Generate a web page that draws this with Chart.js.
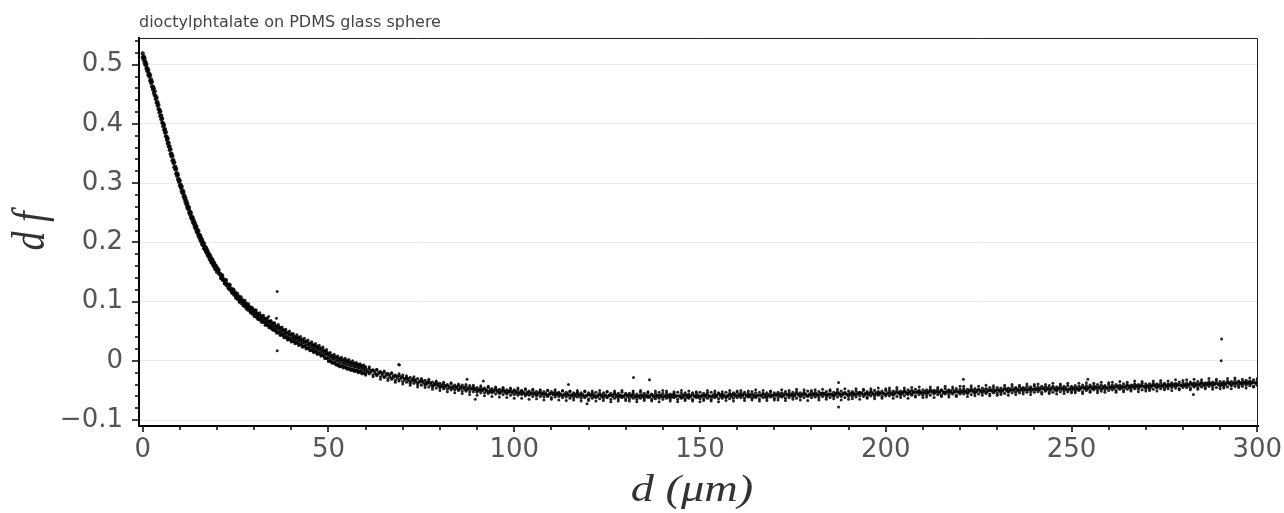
<!DOCTYPE html>
<html>
<head>
<meta charset="utf-8">
<script src="https://cdn.jsdelivr.net/npm/chart.js@4.4.1/dist/chart.umd.min.js"></script>
<style>
  html, body { margin: 0; padding: 0; background: #fff; }
  canvas { display: block; }
</style>
</head>
<body>
<canvas id="c" width="1284" height="513"></canvas>
<script>
// readings: d in um, df dimensionless
const xA = [0,0.25,0.5,0.75,1,1.25,1.5,1.75,2,2.25,2.5,2.75,3,3.25,3.5,3.75,4,4.25,4.5,4.75,
  5,5.25,5.5,5.75,6,6.25,6.5,6.75,7,7.25,7.5,7.75,8,8.25,8.5,8.75,9,9.25,9.5,9.75,
  10,10.25,10.5,10.75,11,11.25,11.5,11.75,12,12.25,12.5,12.75,13,13.25,13.5,13.75,14,14.25,14.5,14.75,
  15,15.25,15.5,15.75,16,16.25,16.5,16.75,17,17.25,17.5,17.75,18,18.25,18.5,18.75,19,19.25,19.5,19.75,20];
const yA1 = [0.519,0.514,0.511,0.505,0.501,0.494,0.491,0.485,0.482,0.475,
  0.471,0.463,0.460,0.455,0.447,0.444,0.437,0.432,0.424,0.421,
  0.414,0.409,0.401,0.398,0.391,0.386,0.378,0.375,0.368,0.362,
  0.357,0.350,0.346,0.339,0.335,0.328,0.324,0.317,0.314,0.307,
  0.304,0.297,0.294,0.288,0.285,0.279,0.275,0.270,0.266,0.261,
  0.258,0.252,0.250,0.244,0.241,0.237,0.233,0.229,0.226,0.221,
  0.219,0.213,0.211,0.207,0.204,0.200,0.198,0.193,0.191,0.188,
  0.185,0.181,0.179,0.176,0.172,0.171,0.167,0.165,0.161,0.160,0.157];
const yA2 = [0.512,0.508,0.503,0.499,0.493,0.489,0.483,0.480,0.473,0.469,
  0.463,0.458,0.452,0.448,0.442,0.436,0.431,0.425,0.419,0.413,
  0.408,0.402,0.396,0.390,0.385,0.379,0.373,0.367,0.362,0.356,
  0.349,0.345,0.338,0.334,0.327,0.323,0.316,0.312,0.306,0.302,
  0.296,0.292,0.286,0.283,0.277,0.273,0.268,0.264,0.259,0.256,
  0.250,0.247,0.242,0.239,0.234,0.231,0.226,0.223,0.218,0.216,
  0.211,0.208,0.204,0.201,0.197,0.195,0.190,0.188,0.184,0.182,
  0.178,0.176,0.172,0.170,0.166,0.165,0.161,0.159,0.155,0.154,0.150];

const xB = [20.5,21,21.5,22,22.5,23,23.5,24,24.5,25,25.5,26,26.5,27,27.5,28,28.5,29,29.5,30,
  30.5,31,31.5,32,32.5,33,33.5,34,34.5,35,35.5,36,36.5,37,37.5,38,38.5,39,39.5,40,
  40.5,41,41.5,42,42.5,43,43.5,44,44.5,45,45.5,46,46.5,47,47.5,48,48.5,49,49.5,50,
  50.5,51,51.5,52,52.5,53,53.5,54,54.5,55,55.5,56,56.5,57,57.5,58,58.5,59,59.5,60];
const yB1 = [0.153,0.147,0.143,0.138,0.135,0.130,0.127,0.122,0.119,0.116,
  0.111,0.109,0.105,0.103,0.099,0.097,0.093,0.091,0.088,0.086,
  0.083,0.080,0.078,0.076,0.073,0.072,0.069,0.067,0.066,0.063,
  0.062,0.059,0.058,0.055,0.054,0.052,0.049,0.048,0.046,0.045,
  0.043,0.040,0.040,0.038,0.036,0.036,0.033,0.033,0.030,0.029,
  0.028,0.026,0.025,0.023,0.022,0.020,0.019,0.016,0.015,0.011,
  0.010,0.008,0.007,0.005,0.004,0.002,0.002,0.000,0.000,-0.002,
  -0.002,-0.004,-0.004,-0.006,-0.006,-0.008,-0.008,-0.010,-0.010,-0.012];
const yB2 = [0.146,0.140,0.136,0.131,0.127,0.124,0.119,0.116,0.111,0.108,
  0.104,0.101,0.097,0.095,0.091,0.089,0.085,0.083,0.079,0.078,
  0.074,0.072,0.069,0.068,0.065,0.062,0.060,0.058,0.055,0.054,
  0.051,0.050,0.047,0.046,0.043,0.042,0.039,0.038,0.036,0.034,
  0.033,0.031,0.030,0.028,0.027,0.025,0.024,0.022,0.021,0.019,
  0.018,0.016,0.015,0.013,0.012,0.010,0.009,0.006,0.005,0.002,
  0.000,-0.002,-0.003,-0.005,-0.006,-0.008,-0.008,-0.010,-0.010,-0.012,
  -0.012,-0.014,-0.014,-0.016,-0.016,-0.018,-0.018,-0.020,-0.020,-0.022];
const yB3 = [0.150,0.145,0.137,0.136,0.129,0.128,0.121,0.120,0.114,0.113,
  0.106,0.107,0.100,0.101,0.094,0.095,0.088,0.090,0.082,0.085,
  0.076,0.079,0.071,0.075,0.066,0.070,0.061,0.066,0.058,0.064,
  0.053,0.058,0.049,0.056,0.045,0.051,0.041,0.047,0.038,0.045,
  0.034,0.041,0.031,0.040,0.028,0.035,0.025,0.033,0.022,0.030,
  0.019,0.027,0.016,0.025,0.012,0.021,0.010,0.017,0.004,0.013,
  -0.001,0.009,-0.004,0.007,-0.008,0.004,-0.010,0.002,-0.011,0.001,
  -0.014,-0.002,-0.016,-0.004,-0.017,-0.006,-0.019,-0.008,-0.021,-0.010];
const yB4 = [0.155,0.139,0.145,0.130,0.137,0.122,0.129,0.114,0.121,0.106,
  0.114,0.099,0.108,0.093,0.102,0.087,0.096,0.081,0.090,0.075,
  0.086,0.070,0.081,0.065,0.077,0.060,0.072,0.056,0.068,0.052,
  0.064,0.047,0.061,0.043,0.057,0.039,0.053,0.035,0.050,0.032,
  0.046,0.029,0.044,0.026,0.041,0.023,0.038,0.020,0.035,0.017,
  0.032,0.014,0.029,0.011,0.026,0.008,0.023,0.004,0.019,-0.001,
  0.014,-0.004,0.011,-0.007,0.008,-0.010,0.006,-0.012,0.004,-0.014,
  0.002,-0.016,0.000,-0.018,-0.003,-0.020,-0.005,-0.022,-0.007,-0.024];
const yB5 = [0.149,0.143,0.140,0.134,0.131,0.126,0.123,0.118,0.116,0.111,
  0.109,0.104,0.102,0.098,0.097,0.092,0.090,0.086,0.085,0.081,
  0.080,0.076,0.075,0.071,0.070,0.066,0.066,0.062,0.061,0.058,
  0.058,0.054,0.054,0.050,0.050,0.046,0.046,0.042,0.043,0.039,
  0.039,0.036,0.036,0.033,0.033,0.030,0.030,0.027,0.027,0.024,
  0.024,0.021,0.021,0.018,0.018,0.015,0.015,0.011,0.011,0.006,
  0.006,0.003,0.003,0.000,0.000,-0.003,-0.002,-0.005,-0.004,-0.007,
  -0.006,-0.009,-0.008,-0.011,-0.010,-0.013,-0.012,-0.015,-0.014,-0.017];

const xC = [61,62,63,64,65,66,67,68,69,70,71,72,73,74,75,76,77,78,79,80,
  81,82,83,84,85,86,87,88,89,90,91,92,93,94,95,96,97,98,99,100,
  101,102,103,104,105,106,107,108,109,110,111,112,113,114,115,116,117,118,119,120,
  121,122,123,124,125,126,127,128,129,130,131,132,133,134,135,136,137,138,139,140,
  141,142,143,144,145,146,147,148,149,150,151,152,153,154,155,156,157,158,159,160,
  161,162,163,164,165,166,167,168,169,170,171,172,173,174,175,176,177,178,179,180,
  181,182,183,184,185,186,187,188,189,190,191,192,193,194,195,196,197,198,199,200,
  201,202,203,204,205,206,207,208,209,210,211,212,213,214,215,216,217,218,219,220,
  221,222,223,224,225,226,227,228,229,230,231,232,233,234,235,236,237,238,239,240,
  241,242,243,244,245,246,247,248,249,250,251,252,253,254,255,256,257,258,259,260,
  261,262,263,264,265,266,267,268,269,270,271,272,273,274,275,276,277,278,279,280,
  281,282,283,284,285,286,287,288,289,290,291,292,293,294,295,296,297,298,299,300];
const yC1 = [-0.013,-0.016,-0.015,-0.018,-0.019,-0.021,-0.021,-0.024,-0.025,-0.024,
  -0.028,-0.028,-0.031,-0.030,-0.032,-0.033,-0.034,-0.036,-0.036,-0.038,
  -0.039,-0.040,-0.039,-0.041,-0.042,-0.041,-0.043,-0.042,-0.044,-0.045,
  -0.045,-0.046,-0.045,-0.047,-0.046,-0.048,-0.047,-0.049,-0.048,-0.049,
  -0.049,-0.050,-0.049,-0.051,-0.050,-0.052,-0.051,-0.052,-0.050,-0.052,
  -0.052,-0.053,-0.051,-0.053,-0.052,-0.054,-0.053,-0.054,-0.052,-0.054,
  -0.054,-0.053,-0.055,-0.054,-0.052,-0.055,-0.054,-0.055,-0.053,-0.055,
  -0.055,-0.054,-0.056,-0.053,-0.055,-0.054,-0.056,-0.055,-0.053,-0.055,
  -0.054,-0.056,-0.055,-0.053,-0.055,-0.054,-0.056,-0.054,-0.055,-0.053,
  -0.055,-0.054,-0.053,-0.055,-0.054,-0.056,-0.053,-0.055,-0.054,-0.053,
  -0.054,-0.053,-0.055,-0.052,-0.054,-0.053,-0.055,-0.054,-0.052,-0.054,
  -0.053,-0.054,-0.052,-0.054,-0.053,-0.052,-0.054,-0.053,-0.051,-0.053,
  -0.053,-0.052,-0.054,-0.052,-0.051,-0.053,-0.052,-0.051,-0.053,-0.051,
  -0.052,-0.051,-0.053,-0.050,-0.052,-0.051,-0.050,-0.052,-0.051,-0.050,
  -0.050,-0.051,-0.049,-0.051,-0.050,-0.049,-0.050,-0.048,-0.050,-0.049,
  -0.049,-0.048,-0.050,-0.048,-0.049,-0.047,-0.049,-0.048,-0.047,-0.048,
  -0.047,-0.048,-0.046,-0.047,-0.048,-0.046,-0.047,-0.045,-0.046,-0.045,
  -0.046,-0.045,-0.046,-0.044,-0.045,-0.044,-0.045,-0.043,-0.044,-0.043,
  -0.044,-0.043,-0.044,-0.042,-0.043,-0.044,-0.042,-0.043,-0.042,-0.043,
  -0.042,-0.043,-0.041,-0.042,-0.041,-0.042,-0.040,-0.041,-0.042,-0.040,
  -0.041,-0.040,-0.041,-0.039,-0.040,-0.041,-0.039,-0.040,-0.038,-0.039,
  -0.039,-0.038,-0.039,-0.037,-0.038,-0.039,-0.037,-0.038,-0.036,-0.037,
  -0.037,-0.036,-0.037,-0.035,-0.036,-0.037,-0.035,-0.036,-0.034,-0.035,
  -0.035,-0.034,-0.035,-0.033,-0.034,-0.035,-0.033,-0.034,-0.032,-0.033];
const yC2 = [-0.022,-0.024,-0.025,-0.027,-0.028,-0.030,-0.031,-0.033,-0.034,-0.035,
  -0.036,-0.038,-0.038,-0.040,-0.041,-0.041,-0.044,-0.044,-0.046,-0.046,
  -0.047,-0.048,-0.049,-0.049,-0.050,-0.051,-0.051,-0.052,-0.052,-0.053,
  -0.054,-0.054,-0.055,-0.054,-0.056,-0.055,-0.057,-0.056,-0.058,-0.057,
  -0.058,-0.057,-0.059,-0.058,-0.060,-0.059,-0.060,-0.061,-0.060,-0.062,
  -0.061,-0.060,-0.062,-0.061,-0.063,-0.062,-0.061,-0.063,-0.062,-0.064,
  -0.063,-0.062,-0.064,-0.063,-0.062,-0.065,-0.063,-0.064,-0.062,-0.064,
  -0.064,-0.063,-0.065,-0.063,-0.064,-0.062,-0.065,-0.064,-0.063,-0.065,
  -0.063,-0.064,-0.062,-0.065,-0.063,-0.064,-0.063,-0.065,-0.062,-0.064,
  -0.064,-0.063,-0.065,-0.062,-0.064,-0.063,-0.062,-0.064,-0.063,-0.062,
  -0.062,-0.063,-0.061,-0.063,-0.062,-0.064,-0.062,-0.063,-0.061,-0.063,
  -0.062,-0.061,-0.063,-0.062,-0.061,-0.063,-0.061,-0.062,-0.060,-0.062,
  -0.061,-0.062,-0.060,-0.061,-0.062,-0.060,-0.061,-0.060,-0.062,-0.060,
  -0.060,-0.061,-0.059,-0.060,-0.061,-0.059,-0.060,-0.058,-0.060,-0.059,
  -0.059,-0.058,-0.060,-0.058,-0.059,-0.057,-0.058,-0.059,-0.057,-0.058,
  -0.057,-0.058,-0.056,-0.057,-0.058,-0.056,-0.057,-0.056,-0.058,-0.056,
  -0.056,-0.055,-0.057,-0.055,-0.056,-0.054,-0.055,-0.056,-0.054,-0.055,
  -0.054,-0.055,-0.053,-0.054,-0.053,-0.054,-0.052,-0.053,-0.052,-0.053,
  -0.052,-0.053,-0.051,-0.052,-0.053,-0.051,-0.052,-0.051,-0.052,-0.051,
  -0.051,-0.050,-0.052,-0.050,-0.051,-0.049,-0.050,-0.051,-0.049,-0.050,
  -0.049,-0.050,-0.048,-0.049,-0.048,-0.049,-0.047,-0.048,-0.049,-0.047,
  -0.047,-0.048,-0.046,-0.047,-0.046,-0.047,-0.045,-0.046,-0.047,-0.045,
  -0.045,-0.046,-0.044,-0.045,-0.044,-0.045,-0.043,-0.044,-0.045,-0.043,
  -0.043,-0.044,-0.042,-0.043,-0.042,-0.043,-0.041,-0.042,-0.043,-0.041];
const yC3 = [-0.019,-0.015,-0.023,-0.020,-0.027,-0.023,-0.029,-0.026,-0.032,-0.028,
  -0.030,-0.035,-0.033,-0.037,-0.035,-0.039,-0.037,-0.042,-0.040,-0.043,
  -0.044,-0.042,-0.046,-0.044,-0.048,-0.045,-0.049,-0.046,-0.047,-0.050,
  -0.050,-0.048,-0.052,-0.051,-0.049,-0.053,-0.050,-0.054,-0.052,-0.051,
  -0.054,-0.052,-0.056,-0.053,-0.055,-0.057,-0.054,-0.056,-0.058,-0.055,
  -0.057,-0.055,-0.058,-0.056,-0.059,-0.057,-0.055,-0.058,-0.060,-0.057,
  -0.058,-0.060,-0.057,-0.059,-0.061,-0.058,-0.056,-0.060,-0.059,-0.057,
  -0.059,-0.057,-0.060,-0.058,-0.061,-0.059,-0.057,-0.060,-0.058,-0.061,
  -0.058,-0.060,-0.057,-0.059,-0.061,-0.058,-0.060,-0.057,-0.059,-0.060,
  -0.059,-0.057,-0.060,-0.058,-0.056,-0.059,-0.061,-0.058,-0.057,-0.059,
  -0.058,-0.056,-0.059,-0.057,-0.060,-0.058,-0.056,-0.059,-0.057,-0.058,
  -0.057,-0.059,-0.056,-0.058,-0.057,-0.055,-0.058,-0.056,-0.059,-0.057,
  -0.056,-0.058,-0.055,-0.057,-0.056,-0.058,-0.055,-0.057,-0.055,-0.056,
  -0.055,-0.057,-0.054,-0.056,-0.055,-0.053,-0.056,-0.055,-0.054,-0.056,
  -0.054,-0.056,-0.053,-0.055,-0.052,-0.054,-0.056,-0.053,-0.052,-0.054,
  -0.053,-0.051,-0.054,-0.052,-0.050,-0.053,-0.052,-0.054,-0.051,-0.052,
  -0.051,-0.053,-0.050,-0.052,-0.049,-0.051,-0.053,-0.050,-0.051,-0.049,
  -0.050,-0.048,-0.051,-0.049,-0.047,-0.050,-0.048,-0.049,-0.047,-0.048,
  -0.048,-0.046,-0.049,-0.047,-0.045,-0.048,-0.046,-0.047,-0.049,-0.046,
  -0.046,-0.048,-0.045,-0.047,-0.044,-0.046,-0.045,-0.047,-0.044,-0.045,
  -0.045,-0.043,-0.046,-0.044,-0.042,-0.045,-0.043,-0.044,-0.042,-0.043,
  -0.043,-0.041,-0.044,-0.042,-0.040,-0.043,-0.041,-0.042,-0.040,-0.041,
  -0.041,-0.039,-0.042,-0.040,-0.038,-0.041,-0.039,-0.040,-0.038,-0.039,
  -0.039,-0.037,-0.040,-0.038,-0.036,-0.039,-0.037,-0.038,-0.036,-0.037];
const yC4 = [-0.010,-0.027,-0.014,-0.031,-0.017,-0.033,-0.020,-0.036,-0.022,-0.039,
  -0.025,-0.041,-0.027,-0.044,-0.030,-0.045,-0.031,-0.048,-0.034,-0.050,
  -0.036,-0.052,-0.037,-0.054,-0.039,-0.055,-0.040,-0.057,-0.041,-0.058,
  -0.042,-0.059,-0.043,-0.060,-0.044,-0.061,-0.045,-0.062,-0.046,-0.063,
  -0.046,-0.063,-0.047,-0.065,-0.048,-0.064,-0.049,-0.066,-0.050,-0.065,
  -0.049,-0.066,-0.050,-0.067,-0.051,-0.066,-0.050,-0.068,-0.051,-0.067,
  -0.051,-0.068,-0.050,-0.067,-0.052,-0.069,-0.051,-0.068,-0.050,-0.067,
  -0.068,-0.051,-0.069,-0.050,-0.067,-0.052,-0.068,-0.051,-0.069,-0.050,
  -0.051,-0.068,-0.052,-0.069,-0.050,-0.067,-0.051,-0.068,-0.052,-0.069,
  -0.067,-0.050,-0.068,-0.051,-0.069,-0.052,-0.067,-0.050,-0.068,-0.051,
  -0.050,-0.067,-0.051,-0.066,-0.049,-0.068,-0.050,-0.067,-0.051,-0.066,
  -0.066,-0.049,-0.067,-0.050,-0.065,-0.048,-0.066,-0.049,-0.067,-0.050,
  -0.049,-0.066,-0.048,-0.065,-0.049,-0.064,-0.048,-0.066,-0.047,-0.065,
  -0.064,-0.047,-0.065,-0.048,-0.063,-0.047,-0.064,-0.046,-0.063,-0.047,
  -0.046,-0.063,-0.045,-0.062,-0.046,-0.063,-0.045,-0.061,-0.044,-0.062,
  -0.061,-0.044,-0.062,-0.045,-0.060,-0.043,-0.061,-0.044,-0.060,-0.043,
  -0.043,-0.060,-0.042,-0.059,-0.043,-0.058,-0.041,-0.059,-0.042,-0.058,
  -0.057,-0.041,-0.058,-0.040,-0.057,-0.041,-0.056,-0.039,-0.057,-0.040,
  -0.039,-0.056,-0.040,-0.055,-0.038,-0.056,-0.039,-0.055,-0.038,-0.054,
  -0.054,-0.038,-0.055,-0.037,-0.053,-0.038,-0.054,-0.036,-0.053,-0.037,
  -0.036,-0.053,-0.035,-0.052,-0.036,-0.051,-0.034,-0.052,-0.035,-0.051,
  -0.050,-0.034,-0.051,-0.033,-0.049,-0.034,-0.050,-0.032,-0.049,-0.033,
  -0.032,-0.049,-0.031,-0.048,-0.032,-0.047,-0.030,-0.048,-0.031,-0.047,
  -0.046,-0.030,-0.047,-0.029,-0.045,-0.031,-0.046,-0.029,-0.044,-0.030];

const xD = [60.5,61.5,62.5,63.5,64.5,65.5,66.5,67.5,68.5,69.5,70.5,71.5,72.5,73.5,74.5,75.5,76.5,77.5,78.5,79.5,
  80.5,81.5,82.5,83.5,84.5,85.5,86.5,87.5,88.5,89.5,90.5,91.5,92.5,93.5,94.5,95.5,96.5,97.5,98.5,99.5,
  100.5,101.5,102.5,103.5,104.5,105.5,106.5,107.5,108.5,109.5,110.5,111.5,112.5,113.5,114.5,115.5,116.5,117.5,118.5,119.5,
  120.5,121.5,122.5,123.5,124.5,125.5,126.5,127.5,128.5,129.5,130.5,131.5,132.5,133.5,134.5,135.5,136.5,137.5,138.5,139.5,
  140.5,141.5,142.5,143.5,144.5,145.5,146.5,147.5,148.5,149.5,150.5,151.5,152.5,153.5,154.5,155.5,156.5,157.5,158.5,159.5,
  160.5,161.5,162.5,163.5,164.5,165.5,166.5,167.5,168.5,169.5,170.5,171.5,172.5,173.5,174.5,175.5,176.5,177.5,178.5,179.5,
  180.5,181.5,182.5,183.5,184.5,185.5,186.5,187.5,188.5,189.5,190.5,191.5,192.5,193.5,194.5,195.5,196.5,197.5,198.5,199.5,
  200.5,201.5,202.5,203.5,204.5,205.5,206.5,207.5,208.5,209.5,210.5,211.5,212.5,213.5,214.5,215.5,216.5,217.5,218.5,219.5,
  220.5,221.5,222.5,223.5,224.5,225.5,226.5,227.5,228.5,229.5,230.5,231.5,232.5,233.5,234.5,235.5,236.5,237.5,238.5,239.5,
  240.5,241.5,242.5,243.5,244.5,245.5,246.5,247.5,248.5,249.5,250.5,251.5,252.5,253.5,254.5,255.5,256.5,257.5,258.5,259.5,
  260.5,261.5,262.5,263.5,264.5,265.5,266.5,267.5,268.5,269.5,270.5,271.5,272.5,273.5,274.5,275.5,276.5,277.5,278.5,279.5,
  280.5,281.5,282.5,283.5,284.5,285.5,286.5,287.5,288.5,289.5,290.5,291.5,292.5,293.5,294.5,295.5,296.5,297.5,298.5,299.5];
const yD1 = [-0.015,-0.019,-0.018,-0.022,-0.021,-0.025,-0.024,-0.028,-0.026,-0.030,
  -0.030,-0.033,-0.031,-0.035,-0.034,-0.037,-0.036,-0.040,-0.039,-0.042,
  -0.041,-0.044,-0.043,-0.046,-0.044,-0.047,-0.045,-0.048,-0.046,-0.049,
  -0.048,-0.050,-0.049,-0.052,-0.050,-0.052,-0.050,-0.053,-0.051,-0.054,
  -0.052,-0.055,-0.053,-0.056,-0.054,-0.056,-0.054,-0.057,-0.055,-0.057,
  -0.055,-0.057,-0.056,-0.058,-0.056,-0.059,-0.057,-0.059,-0.057,-0.059,
  -0.057,-0.060,-0.058,-0.060,-0.057,-0.059,-0.058,-0.060,-0.058,-0.060,
  -0.058,-0.060,-0.059,-0.061,-0.058,-0.060,-0.059,-0.061,-0.058,-0.060,
  -0.059,-0.061,-0.058,-0.060,-0.059,-0.061,-0.058,-0.060,-0.059,-0.061,
  -0.058,-0.060,-0.059,-0.061,-0.058,-0.060,-0.058,-0.060,-0.057,-0.059,
  -0.057,-0.059,-0.058,-0.060,-0.057,-0.059,-0.058,-0.060,-0.057,-0.059,
  -0.057,-0.059,-0.056,-0.058,-0.057,-0.059,-0.056,-0.058,-0.056,-0.058,
  -0.056,-0.058,-0.055,-0.057,-0.056,-0.058,-0.055,-0.057,-0.055,-0.057,
  -0.055,-0.057,-0.054,-0.056,-0.055,-0.057,-0.054,-0.056,-0.054,-0.056,
  -0.054,-0.056,-0.053,-0.055,-0.053,-0.055,-0.052,-0.054,-0.052,-0.054,
  -0.052,-0.054,-0.051,-0.053,-0.052,-0.054,-0.051,-0.053,-0.051,-0.053,
  -0.051,-0.053,-0.050,-0.052,-0.050,-0.052,-0.049,-0.051,-0.049,-0.051,
  -0.049,-0.051,-0.048,-0.050,-0.048,-0.050,-0.047,-0.049,-0.047,-0.049,
  -0.047,-0.049,-0.046,-0.048,-0.047,-0.049,-0.046,-0.048,-0.046,-0.048,
  -0.046,-0.048,-0.045,-0.047,-0.045,-0.047,-0.044,-0.046,-0.044,-0.046,
  -0.044,-0.046,-0.043,-0.045,-0.043,-0.045,-0.042,-0.044,-0.042,-0.044,
  -0.042,-0.044,-0.041,-0.043,-0.041,-0.043,-0.040,-0.042,-0.040,-0.042,
  -0.040,-0.042,-0.039,-0.041,-0.039,-0.041,-0.038,-0.040,-0.038,-0.040,
  -0.038,-0.040,-0.037,-0.039,-0.037,-0.039,-0.036,-0.038,-0.036,-0.038];
const yD2 = [-0.019,-0.016,-0.021,-0.019,-0.024,-0.022,-0.027,-0.025,-0.029,-0.027,
  -0.032,-0.030,-0.034,-0.032,-0.036,-0.034,-0.039,-0.037,-0.041,-0.039,
  -0.043,-0.042,-0.045,-0.043,-0.046,-0.044,-0.047,-0.046,-0.048,-0.047,
  -0.050,-0.048,-0.051,-0.049,-0.052,-0.050,-0.053,-0.051,-0.053,-0.052,
  -0.054,-0.053,-0.055,-0.053,-0.056,-0.054,-0.056,-0.055,-0.057,-0.055,
  -0.057,-0.055,-0.058,-0.056,-0.058,-0.057,-0.059,-0.057,-0.059,-0.058,
  -0.059,-0.057,-0.060,-0.058,-0.059,-0.058,-0.060,-0.058,-0.060,-0.059,
  -0.060,-0.058,-0.061,-0.059,-0.060,-0.058,-0.061,-0.059,-0.060,-0.058,
  -0.060,-0.058,-0.061,-0.059,-0.060,-0.058,-0.061,-0.059,-0.060,-0.058,
  -0.060,-0.058,-0.060,-0.058,-0.060,-0.057,-0.059,-0.058,-0.060,-0.057,
  -0.059,-0.057,-0.059,-0.057,-0.060,-0.058,-0.059,-0.057,-0.059,-0.058,
  -0.058,-0.056,-0.059,-0.057,-0.058,-0.056,-0.058,-0.057,-0.058,-0.056,
  -0.058,-0.056,-0.057,-0.055,-0.058,-0.056,-0.057,-0.055,-0.057,-0.056,
  -0.057,-0.055,-0.056,-0.054,-0.057,-0.055,-0.056,-0.054,-0.056,-0.055,
  -0.056,-0.054,-0.055,-0.053,-0.055,-0.053,-0.054,-0.052,-0.054,-0.053,
  -0.054,-0.052,-0.053,-0.051,-0.054,-0.052,-0.053,-0.051,-0.053,-0.052,
  -0.053,-0.051,-0.052,-0.050,-0.052,-0.050,-0.051,-0.049,-0.051,-0.050,
  -0.051,-0.049,-0.050,-0.048,-0.050,-0.048,-0.049,-0.047,-0.049,-0.048,
  -0.049,-0.047,-0.048,-0.046,-0.049,-0.047,-0.048,-0.046,-0.048,-0.047,
  -0.048,-0.046,-0.047,-0.045,-0.047,-0.045,-0.046,-0.044,-0.046,-0.045,
  -0.046,-0.044,-0.045,-0.043,-0.045,-0.043,-0.044,-0.042,-0.044,-0.043,
  -0.044,-0.042,-0.043,-0.041,-0.043,-0.041,-0.042,-0.040,-0.042,-0.041,
  -0.042,-0.040,-0.041,-0.039,-0.041,-0.039,-0.040,-0.038,-0.040,-0.039,
  -0.040,-0.038,-0.039,-0.037,-0.039,-0.037,-0.038,-0.036,-0.038,-0.037];

// stray points away from the band
const xOut = [36.2,33.9,36.0,36.2,69.1,68.9,87.3,91.7,89.5,114.6,119.6,132.1,136.4,187.3,187.3,220.9,254.4,282.8,290.3,290.4];
const yOut = [0.117,0.075,0.072,0.017,-0.007,-0.006,-0.031,-0.034,-0.065,-0.040,-0.0725,-0.028,-0.032,-0.0365,-0.078,-0.031,-0.031,-0.057,0.000,0.037];

const xMajor = 50, yMajor = 0.1;

const pairs = (xs, ys) => xs.map((x, i) => ({ x: x, y: ys[i] }));
const isMajorY = v => Math.abs(v / yMajor - Math.round(v / yMajor)) < 1e-6;
const isMajorX = v => Math.abs(v / xMajor - Math.round(v / xMajor)) < 1e-6;

// steep start is drawn a bit fatter, as in the source the dots pile up there
const series = [
  { d: pairs(xA, yA1), r: 2.1 }, { d: pairs(xA, yA2), r: 2.1 },
  { d: pairs(xB, yB1), r: 1.7 }, { d: pairs(xB, yB2), r: 1.7 }, { d: pairs(xB, yB3), r: 1.6 },
  { d: pairs(xB, yB4), r: 1.6 }, { d: pairs(xB, yB5), r: 1.7 },
  { d: pairs(xC, yC1), r: 1.6 }, { d: pairs(xC, yC2), r: 1.6 }, { d: pairs(xC, yC3), r: 1.6 },
  { d: pairs(xC, yC4), r: 1.5 },
  { d: pairs(xD, yD1), r: 1.6 }, { d: pairs(xD, yD2), r: 1.6 },
  { d: pairs(xOut, yOut), r: 1.5 }
];

// outline on top/right, major+minor tick marks, and the math-style axis titles
const frame = {
  id: 'frame',
  afterDraw(chart) {
    const { ctx, chartArea: a, scales: { x, y } } = chart;
    ctx.save();
    ctx.strokeStyle = '#222';
    ctx.lineWidth = 1;
    ctx.beginPath();
    ctx.moveTo(a.left, a.top + 0.5);
    ctx.lineTo(a.right - 0.5, a.top + 0.5);
    ctx.lineTo(a.right - 0.5, a.bottom);
    ctx.stroke();

    ctx.strokeStyle = '#000';
    ctx.lineWidth = 1.5;
    x.ticks.forEach(t => {
      const px = Math.round(x.getPixelForValue(t.value));
      const len = isMajorX(t.value) ? 6 : 4;
      ctx.beginPath();
      ctx.moveTo(px, a.bottom);
      ctx.lineTo(px, a.bottom + len);
      ctx.stroke();
    });
    y.ticks.forEach(t => {
      const py = Math.round(y.getPixelForValue(t.value));
      const len = isMajorY(t.value) ? 7 : 4;
      ctx.beginPath();
      ctx.moveTo(a.left, py);
      ctx.lineTo(a.left - len, py);
      ctx.stroke();
    });

    ctx.fillStyle = '#333';
    ctx.font = 'italic 38px "Liberation Serif"';
    ctx.textAlign = 'center';
    ctx.textBaseline = 'alphabetic';
    ctx.save();
    ctx.translate(692, 501);
    ctx.scale(1.22, 1);
    ctx.fillText('d (\u03bcm)', 0, 0);
    ctx.restore();

    ctx.save();
    ctx.translate(32, 231);
    ctx.scale(1.2, 1);
    ctx.rotate(-Math.PI / 2);
    ctx.textBaseline = 'middle';
    ctx.fillText('d f', 0, 0);
    ctx.restore();
    ctx.restore();
  }
};

new Chart(document.getElementById('c'), {
  type: 'scatter',
  data: {
    datasets: series.map(s => ({
      data: s.d,
      backgroundColor: 'rgba(0,0,0,0.85)',
      borderWidth: 0,
      pointRadius: s.r,
      pointHoverRadius: s.r
    }))
  },
  options: {
    responsive: false,
    animation: false,
    events: [],
    layout: { padding: { left: 0, right: 26, top: 0, bottom: 0 } },
    plugins: {
      legend: { display: false },
      tooltip: { enabled: false },
      title: {
        display: true,
        text: 'dioctylphtalate on PDMS glass sphere',
        align: 'start',
        fullSize: false,
        color: '#444',
        font: { family: '"DejaVu Sans"', size: 16, weight: 'normal' },
        padding: { top: 13, bottom: 5.8 }
      }
    },
    scales: {
      x: {
        type: 'linear',
        min: -1,
        max: 300.2,
        afterFit: s => { s.height = 87; s.paddingLeft = 0; s.paddingRight = 0; },
        grid: { display: false, drawTicks: false },
        border: { display: true, color: '#000', width: 2 },
        ticks: {
          stepSize: 10,
          includeBounds: false,
          autoSkip: false,
          maxRotation: 0,
          padding: 9,
          color: '#555',
          font: { family: '"DejaVu Sans"', size: 26 },
          callback: v => isMajorX(v) ? String(Math.round(v)) : ''
        }
      },
      y: {
        min: -0.11,
        max: 0.545,
        afterFit: s => { s.width = 139; s.paddingTop = 0; s.paddingBottom = 0; },
        grid: {
          drawTicks: false,
          lineWidth: 1,
          color: c => (c.tick && isMajorY(c.tick.value)) ? '#ebebeb' : 'rgba(0,0,0,0)'
        },
        border: { display: true, color: '#000', width: 2 },
        ticks: {
          stepSize: 0.02,
          includeBounds: false,
          autoSkip: false,
          padding: 16,
          color: '#555',
          font: { family: '"DejaVu Sans"', size: 26 },
          callback: v => {
            if (!isMajorY(v)) return '';
            const k = Math.round(v / yMajor);
            if (k === 0) return '0';
            return (k < 0 ? '\u2212' : '') + (Math.abs(k) / 10).toFixed(1);
          }
        }
      }
    }
  },
  plugins: [frame]
});
</script>
</body>
</html>
